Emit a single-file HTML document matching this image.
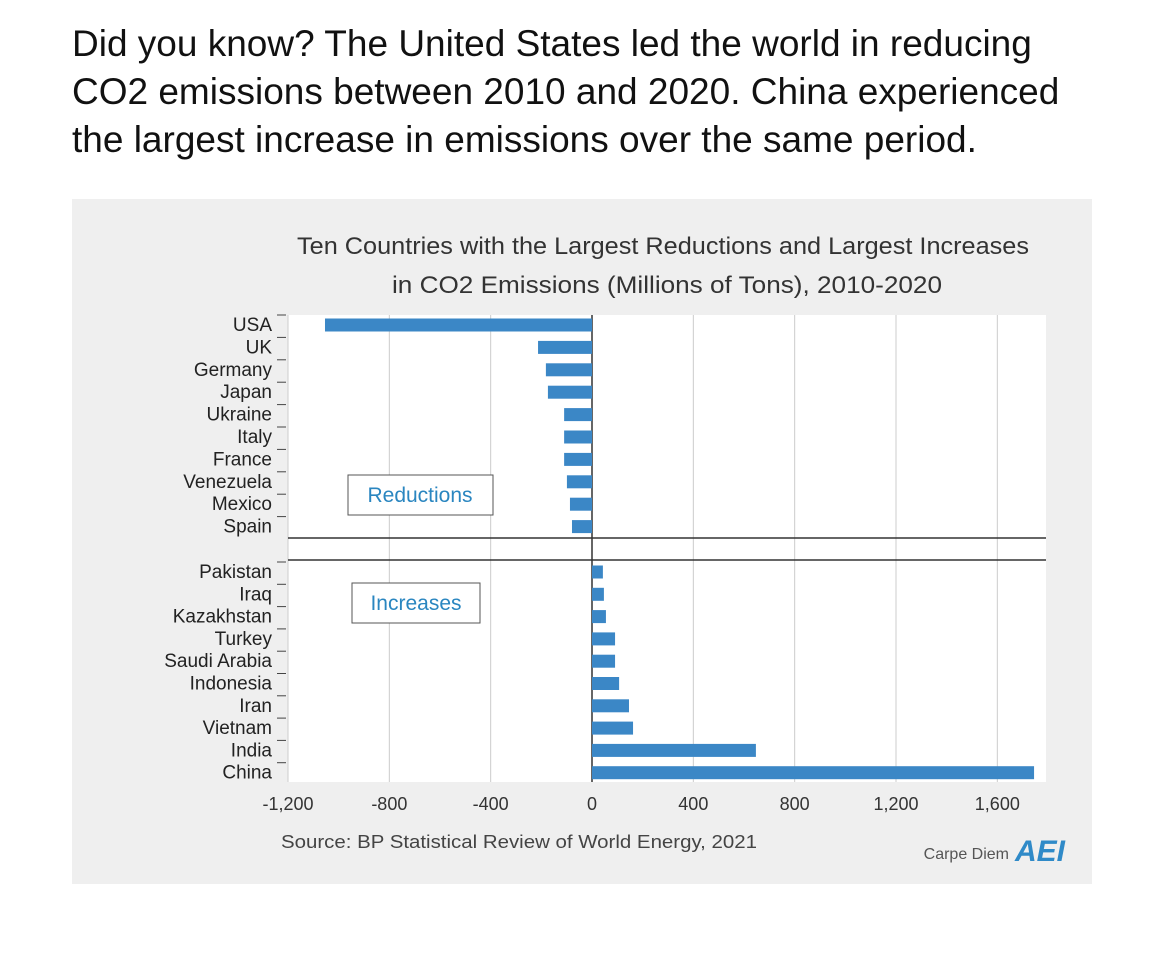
<!DOCTYPE html>
<html><head><meta charset="utf-8"><style>
body{margin:0;background:#fff;width:1170px;height:953px;overflow:hidden;font-family:"Liberation Sans",sans-serif}
#hdr{position:absolute;left:72px;top:20px;font-size:37px;line-height:48px;color:#111;white-space:nowrap}
svg{position:absolute;left:0;top:0}
</style></head><body>
<div id="hdr">Did you know? The United States led the world in reducing<br>CO2 emissions between 2010 and 2020. China experienced<br>the largest increase in emissions over the same period.</div>
<svg id="chart" width="1170" height="953">
<rect x="72" y="199" width="1020" height="685" fill="#efefef"/>
<rect x="288" y="315" width="758" height="467" fill="#fff"/>
<g font-family="Liberation Sans,sans-serif" fill="#333" font-size="24" text-anchor="middle">
<text x="663" y="254" textLength="732" lengthAdjust="spacingAndGlyphs">Ten Countries with the Largest Reductions and Largest Increases</text>
<text x="667" y="293" textLength="550" lengthAdjust="spacingAndGlyphs">in CO2 Emissions (Millions of Tons), 2010-2020</text>
</g>
<g id="grid"></g><g id="bars"></g><g id="labels"></g>
<line x1="288" y1="538" x2="1046" y2="538" stroke="#333" stroke-width="1.5"/>
<line x1="288" y1="560" x2="1046" y2="560" stroke="#333" stroke-width="1.5"/>
<rect x="348" y="475" width="145" height="40" fill="#fff" stroke="#555"/>
<text x="420" y="502" text-anchor="middle" font-size="21" fill="#2a86c0">Reductions</text>
<rect x="352" y="583" width="128" height="40" fill="#fff" stroke="#555"/>
<text x="416" y="610" text-anchor="middle" font-size="21" fill="#2a86c0">Increases</text>
<text x="519" y="848" text-anchor="middle" font-size="18" fill="#444" textLength="476" lengthAdjust="spacingAndGlyphs">Source: BP Statistical Review of World Energy, 2021</text>
<text x="1009" y="859" text-anchor="end" font-size="16" fill="#555">Carpe Diem</text>
<text x="1040" y="861" text-anchor="middle" font-size="30" font-weight="bold" font-style="italic" fill="#2f8ac8">AEI</text>
</svg>
<script>
const countries=["USA","UK","Germany","Japan","Ukraine","Italy","France","Venezuela","Mexico","Spain","Pakistan","Iraq","Kazakhstan","Turkey","Saudi Arabia","Indonesia","Iran","Vietnam","India","China"];
const values=[-1054,-213,-182,-174,-110,-110,-110,-99,-87,-79,43,47,55,91,91,107,146,162,647,1745];
const ticks=[-1200,-800,-400,0,400,800,1200,1600];
const tickLabels=["-1,200","-800","-400","0","400","800","1,200","1,600"];
const NS="http://www.w3.org/2000/svg";
const x=v=>592+v*0.25333;
const y=i=>(i<10?325+i*22.4:572+(i-10)*22.3);
function mk(t,a,p){const e=document.createElementNS(NS,t);for(const k in a)e.setAttribute(k,a[k]);document.getElementById(p).appendChild(e);return e;}
ticks.forEach((t,i)=>{
 const g=mk("line",{x1:x(t),x2:x(t),y1:315,y2:782,stroke:t===0?"#333":"#ccc","stroke-width":t===0?1.5:1},"grid");
 
 
 const l=mk("text",{x:x(t),y:810,"text-anchor":"middle","font-size":18,fill:"#333"},"grid");
 l.textContent=tickLabels[i];
 
 
});
countries.forEach((c,i)=>{
 const v=values[i],yc=y(i);
 const b=mk("rect",{x:Math.min(x(0),x(v)),y:yc-6.5,width:Math.abs(x(v)-x(0)),height:13,fill:"#3b87c6"},"bars");
 
 
 const t=mk("text",{x:272,y:yc+6,"text-anchor":"end","font-size":19,fill:"#222"},"labels");
 t.textContent=c;
 
 
 const tk=mk("line",{x1:277,x2:286,y1:yc-10,y2:yc-10,stroke:"#444"},"labels");
 
 
});
</script>
</body></html>
